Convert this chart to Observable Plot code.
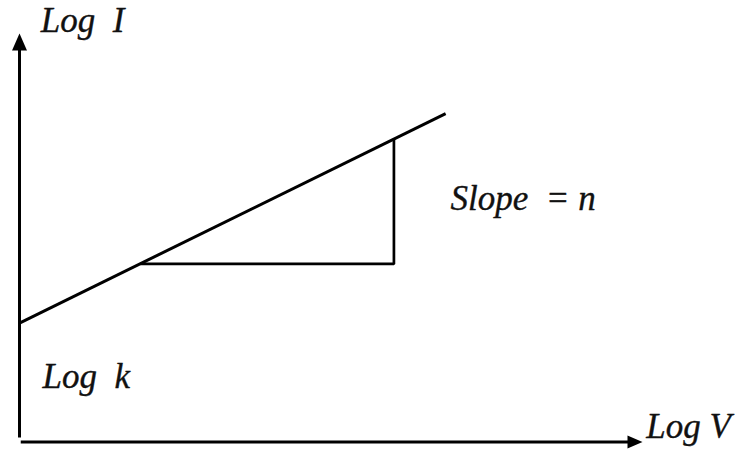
<!DOCTYPE html>
<html>
<head>
<meta charset="utf-8">
<script src="https://cdn.jsdelivr.net/npm/d3@7"></script>
<script src="https://cdn.jsdelivr.net/npm/@observablehq/plot@0.6"></script>
<style>
  html, body { margin: 0; padding: 0; background: #fff; }
  #chart svg { display: block; }
  #chart svg text { font-family: "Liberation Serif", "Times New Roman", serif !important; font-style: italic; }
</style>
</head>
<body>
<div id="chart"></div>
<script>
// Log–log plot of I against V: straight line with intercept log k and slope n.
// Fitted line, given by its two end points (log V, log I)
const fitLogV = [0, 6.84];
const fitLogI = [2.91, 8.04];

// Slope triangle: run along log V at constant log I, then rise to the line
const runLogV = [1.94, 6.01];
const runLogI = 4.36;
const riseLogI = 7.42;

// Axis extents (data units) and where the arrow tips sit
const axisLogV = [0.02, 9.8];
const axisLogI = [0.11, 9.7];
const tipLogV = 10;
const tipLogI = 10;

// Labels and their anchors (log V, log I at the text baseline)
const labelText = ["Log\u00a0\u00a0I", "Log\u00a0\u00a0k", "Slope\u00a0\u00a0=\u00a0n", "Log\u00a0V"];
const labelLogV = [0.34, 0.37, 6.92, 10.06];
const labelLogI = [10.04, 1.33, 5.67, 0.11];

const fitLine = fitLogV.map((v, i) => ({v, i: fitLogI[i]}));
const triangle = [
  {v: runLogV[0], i: runLogI},
  {v: runLogV[1], i: runLogI},
  {v: runLogV[1], i: riseLogI}
];
const axes = [
  {v1: 0, i1: axisLogI[0], v2: 0, i2: axisLogI[1]},
  {v1: axisLogV[0], i1: 0, v2: axisLogV[1], i2: 0}
];
const labels = labelText.map((t, k) => ({t, v: labelLogV[k], i: labelLogI[k]}));

// Filled arrowheads drawn with the tip at the dot's anchor
const headUp = {draw(c) { c.moveTo(0, 0); c.lineTo(7.5, 17); c.lineTo(-7.5, 17); c.closePath(); }};
const headRight = {draw(c) { c.moveTo(0, 0); c.lineTo(-15, 6.5); c.lineTo(-15, -6.5); c.closePath(); }};

const font = {
  fontFamily: "Liberation Serif",
  fontStyle: "italic",
  fontSize: 35,
  fill: "#111",
  stroke: "#111",
  strokeWidth: 0.35,
  textAnchor: "start",
  lineAnchor: "bottom"
};

const chart = Plot.plot({
  width: 742,
  height: 455,
  margin: 0,
  style: {background: "#fff", overflow: "visible"},
  x: {domain: [0, 10], range: [19, 642], axis: null},
  y: {domain: [0, 10], range: [441.5, 33], axis: null},
  marks: [
    Plot.link(axes, {x1: "v1", y1: "i1", x2: "v2", y2: "i2", stroke: "#000", strokeWidth: 3}),
    Plot.dot([{v: 0, i: tipLogI}], {x: "v", y: "i", symbol: headUp, fill: "#000", stroke: "none"}),
    Plot.dot([{v: tipLogV, i: 0}], {x: "v", y: "i", symbol: headRight, fill: "#000", stroke: "none"}),
    Plot.line(fitLine, {x: "v", y: "i", stroke: "#000", strokeWidth: 3, strokeLinecap: "butt"}),
    Plot.line(triangle, {x: "v", y: "i", stroke: "#000", strokeWidth: 2.7, strokeLinejoin: "miter", strokeLinecap: "butt"}),
    Plot.text(labels, {x: "v", y: "i", text: "t", ...font})
  ]
});

document.getElementById("chart").append(chart);
</script>
</body>
</html>
